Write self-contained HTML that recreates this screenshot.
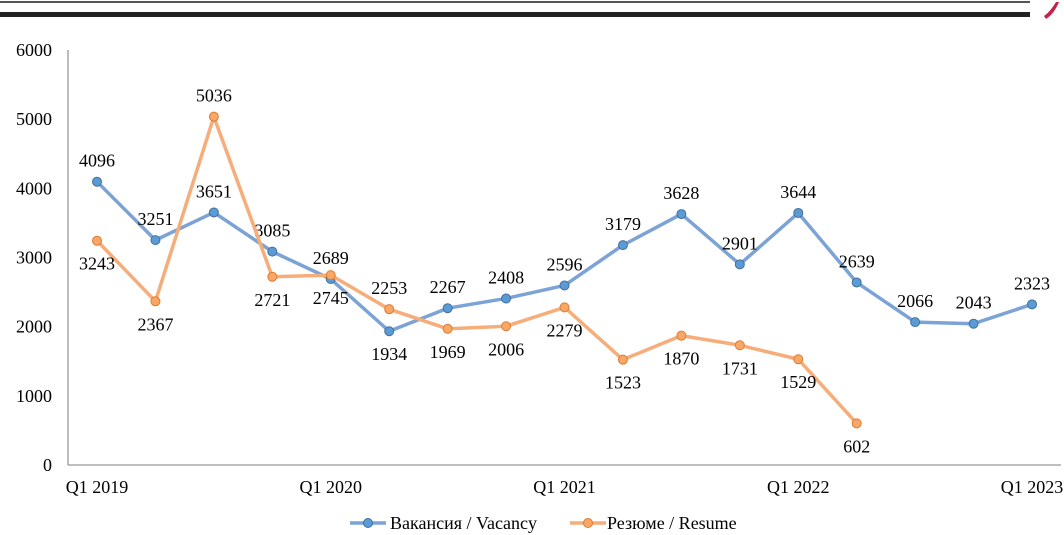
<!DOCTYPE html>
<html><head><meta charset="utf-8">
<style>
html,body{margin:0;padding:0;background:#fff;}
svg{display:block;font-family:"Liberation Serif","Noto Serif CJK SC",serif;}
</style></head>
<body>
<svg id="chart" width="1064" height="535" viewBox="0 0 1064 535">
  <rect x="0" y="1" width="1030" height="2" fill="#555"/>
  <rect x="0" y="12" width="1030" height="5" fill="#222"/>
  <path d="M1044 16 Q1050 12 1056 2 L1059 2 Q1054 14 1046 19 Z" fill="#c0254a"/>
  <g id="grid"></g>
  <g id="series"></g>
  <g id="legend">
    <g>
      <line x1="350" y1="523" x2="386" y2="523" stroke="#7ba3d6" stroke-width="3.5"/>
      <circle cx="368" cy="523" r="4.5" fill="#5b9bd5" stroke="#41719c" stroke-width="1"/>
      <text x="390" y="529" font-size="18" fill="#000">Вакансия / Vacancy</text>
    </g>
    <g>
      <line x1="570" y1="523" x2="606" y2="523" stroke="#f6ad7a" stroke-width="3.5"/>
      <circle cx="588" cy="523" r="4.5" fill="#f8a767" stroke="#e07b30" stroke-width="1"/>
      <text x="607" y="529" font-size="18" fill="#000">Резюме / Resume</text>
    </g>
  </g>
</svg>
<script>
const categories = ["Q1 2019","Q2 2019","Q3 2019","Q4 2019","Q1 2020","Q2 2020","Q3 2020","Q4 2020","Q1 2021","Q2 2021","Q3 2021","Q4 2021","Q1 2022","Q2 2022","Q3 2022","Q4 2022","Q1 2023"];
const vacancy = [4096,3251,3651,3085,2689,1934,2267,2408,2596,3179,3628,2901,3644,2639,2066,2043,2323];
const resume = [3243,2367,5036,2721,2745,2253,1969,2006,2279,1523,1870,1731,1529,602];
const yTicks = [0,1000,2000,3000,4000,5000,6000];
const vacancyLabelSide = ["a","a","a","a","a","b","a","a","a","a","a","a","a","a","a","a","a"];
const resumeLabelSide = ["b","b","a","b","b","a","b","b","b","b","b","b","b","b"];

const NS="http://www.w3.org/2000/svg";
const x0=97, step=(1032-97)/16, yBase=465, yPer=415/6000;
const xs=i=>x0+i*step;
const ys=v=>yBase-v*yPer;
function el(tag,attrs,parent){const e=document.createElementNS(NS,tag);for(const k in attrs)e.setAttribute(k,attrs[k]);parent.appendChild(e);return e;}
const grid=document.getElementById('grid');
const ser=document.getElementById('series');

const yAxis=el('line',{x1:68,y1:50,x2:68,y2:465,stroke:'#999','stroke-width':1.3},grid);


const xAxis=el('line',{x1:68,y1:465,x2:1061,y2:465,stroke:'#999','stroke-width':1.3},grid);


yTicks.forEach(t=>{
  const tx=el('text',{x:52,y:ys(t)+6,'text-anchor':'end','font-size':18},grid);
  tx.textContent=t;
  
  
});
categories.forEach((c,i)=>{
  if(i%4!==0)return;
  const tx=el('text',{x:xs(i),y:493,'text-anchor':'middle','font-size':18},grid);
  tx.textContent=c;
  
  
});

function drawSeries(data,sides,line,fill,stroke,name){
  const pts=data.map((v,i)=>xs(i)+','+ys(v)).join(' ');
  const pl=el('polyline',{points:pts,fill:'none',stroke:line,'stroke-width':3.5,'stroke-linejoin':'round'},ser);
  
  
  data.forEach((v,i)=>{
    const c=el('circle',{cx:xs(i),cy:ys(v),r:4.5,fill:fill,stroke:stroke,'stroke-width':1},ser);
    
    
    const above=sides[i]==='a';
    const t=el('text',{x:xs(i),y:above?ys(v)-15:ys(v)+29,'text-anchor':'middle','font-size':18},ser);
    t.textContent=v;
    
    
  });
}
drawSeries(vacancy,vacancyLabelSide,'#7ba3d6','#5b9bd5','#41719c','vacancy');
drawSeries(resume,resumeLabelSide,'#f6ad7a','#f8a767','#e07b30','resume');
</script>
</body></html>
